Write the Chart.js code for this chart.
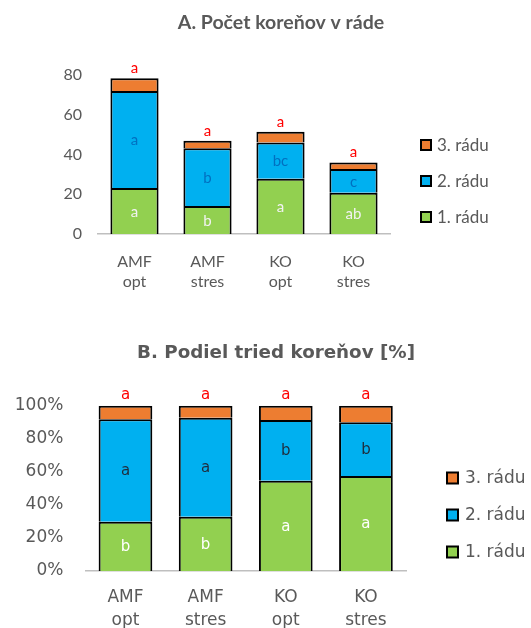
<!DOCTYPE html>
<html>
<head>
<meta charset="utf-8">
<script src="https://cdn.jsdelivr.net/npm/chart.js@4/dist/chart.umd.min.js"></script>
<style>
  html, body { margin: 0; padding: 0; background: #fff; overflow: hidden; width: 531px; height: 628px; }
  #wrapA { position: absolute; left: 0; top: 0; width: 531px; height: 320px; }
  #wrapB { position: absolute; left: 0; top: 320px; width: 531px; height: 340px; }
</style>
</head>
<body>
<div id="wrapA"><canvas id="chartA" width="531" height="320"></canvas></div>
<div id="wrapB"><canvas id="chartB" width="531" height="340"></canvas></div>
<script>
// ---------- data ----------
const categories = [['AMF', 'opt'], ['AMF', 'stres'], ['KO', 'opt'], ['KO', 'stres']];
const seriesNames = ['1. rádu', '2. rádu', '3. rádu'];

// A. Počet koreňov v ráde (counts)
const titleA = 'A. Počet koreňov v ráde';
const countOrder1 = [23.1, 14.1, 27.8, 20.8];
const countOrder2 = [48.8, 29.0, 18.3, 11.9];
const countOrder3 = [6.5, 3.8, 5.3, 3.3];
const lettersA1 = ['a', 'b', 'a', 'ab'];
const lettersA2 = ['a', 'b', 'bc', 'c'];
const lettersA3 = ['a', 'a', 'a', 'a'];
const yTicksA = [0, 20, 40, 60, 80];

// B. Podiel tried koreňov [%]
const titleB = 'B. Podiel tried koreňov [%]';
const shareOrder1 = [29.8, 32.8, 54.6, 57.5];
const shareOrder2 = [62.0, 59.9, 36.7, 32.5];
const shareOrder3 = [8.2, 7.3, 8.7, 10.0];
const lettersB1 = ['b', 'b', 'a', 'a'];
const lettersB2 = ['a', 'a', 'b', 'b'];
const lettersB3 = ['a', 'a', 'a', 'a'];
const yTicksB = [0, 20, 40, 60, 80, 100];
const yTickLabelsB = ['0%', '20%', '40%', '60%', '80%', '100%'];

// ---------- styles ----------
const colGreen = '#92D050', colBlue = '#00B0F0', colOrange = '#ED7D31';
const textGray = '#595959';

// letters inside segments and above stacks
const letterPlugin = {
  id: 'letters',
  afterDatasetsDraw(chart, args, opts) {
    const ctx = chart.ctx;
    ctx.save();
    ctx.font = opts.font;
    ctx.textAlign = 'center';
    ctx.textBaseline = 'middle';
    const n = chart.data.datasets.length;
    chart.data.datasets.forEach((ds, di) => {
      const meta = chart.getDatasetMeta(di);
      meta.data.forEach((bar, i) => {
        const p = bar.getProps(['x', 'y', 'base'], true);
        if (di < n - 1) {
          ctx.fillStyle = opts.colors[di];
          ctx.fillText(opts.inner[di][i], p.x, (p.y + p.base) / 2 + 1);
        } else {
          ctx.fillStyle = '#FF0000';
          ctx.fillText(opts.top[i], p.x, p.y - opts.topGap);
        }
      });
    });
    ctx.restore();
  }
};

// chart heading
const headPlugin = {
  id: 'head',
  afterDraw(chart, args, opts) {
    const ctx = chart.ctx;
    ctx.save();
    ctx.font = opts.font;
    ctx.fillStyle = opts.color;
    ctx.textAlign = 'center';
    ctx.textBaseline = 'middle';
    ctx.fillText(opts.text, opts.x, opts.y);
    ctx.restore();
  }
};

// legend built from the datasets (reversed order), placed to the right
const sideLegendPlugin = {
  id: 'sideLegend',
  afterDraw(chart, args, opts) {
    const ctx = chart.ctx;
    ctx.save();
    ctx.font = opts.font;
    ctx.textAlign = 'left';
    ctx.textBaseline = 'middle';
    const ds = chart.data.datasets.slice().reverse();
    ds.forEach((d, k) => {
      const cy = opts.y + k * opts.step;
      const b = opts.box;
      ctx.fillStyle = d.backgroundColor;
      ctx.fillRect(opts.x, cy - b / 2, b, b);
      ctx.lineWidth = 2;
      ctx.strokeStyle = d.borderColor;
      ctx.strokeRect(opts.x, cy - b / 2, b, b);
      ctx.fillStyle = opts.color;
      ctx.fillText(d.label, opts.x + b + opts.gap, cy + 1);
    });
    ctx.restore();
  }
};

function makeDatasets(d1, d2, d3, bp) {
  const common = { borderColor: '#000000', borderWidth: 2, borderSkipped: 'bottom', categoryPercentage: 1, barPercentage: bp };
  return [
    Object.assign({ label: seriesNames[0], data: d1, backgroundColor: colGreen }, common),
    Object.assign({ label: seriesNames[1], data: d2, backgroundColor: colBlue }, common),
    Object.assign({ label: seriesNames[2], data: d3, backgroundColor: colOrange }, common)
  ];
}

// ---------- Chart A ----------
const fontA = 'Lato';
new Chart(document.getElementById('chartA'), {
  type: 'bar',
  data: { labels: categories, datasets: makeDatasets(countOrder1, countOrder2, countOrder3, 0.66) },
  plugins: [letterPlugin, headPlugin, sideLegendPlugin],
  options: {
    responsive: false, animation: false, devicePixelRatio: 1,
    layout: { padding: { left: 0, top: 75, right: 141, bottom: 0 } },
    plugins: {
      title: { display: false },
      legend: { display: false },
      tooltip: { enabled: false },
      head: { text: titleA, x: 281, y: 23, font: 'bold 19.5px Lato', color: textGray },
      sideLegend: { x: 421, y: 145, step: 36, box: 10, gap: 6, font: '17px Lato', color: textGray },
      letters: { font: '15px Lato', colors: ['#F2F2F2', '#0070C0'],
                 inner: [lettersA1, lettersA2], top: lettersA3, topGap: 10 }
    },
    scales: {
      x: { stacked: true, grid: { display: false, drawTicks: false },
           border: { display: true, color: '#BFBFBF', width: 1.5 },
           ticks: { color: textGray, padding: 17, maxRotation: 0, autoSkip: false,
                    font: { family: fontA, size: 16, lineHeight: 1.3 } },
           afterFit(s) { s.height = 86; } },
      y: { stacked: true, min: 0, max: 80,
           grid: { display: false, drawTicks: false }, border: { display: false },
           afterBuildTicks(s) { s.ticks = yTicksA.map(v => ({ value: v })); },
           ticks: { color: textGray, padding: 16, font: { family: fontA, size: 16 } },
           afterFit(s) { s.width = 98; } }
    }
  }
});

// ---------- Chart B ----------
const fontB = 'DejaVu Sans';
new Chart(document.getElementById('chartB'), {
  type: 'bar',
  data: { labels: categories, datasets: makeDatasets(shareOrder1, shareOrder2, shareOrder3, 0.67) },
  plugins: [letterPlugin, headPlugin, sideLegendPlugin],
  options: {
    responsive: false, animation: false, devicePixelRatio: 1,
    layout: { padding: { left: 0, top: 85.7, right: 125, bottom: 0 } },
    plugins: {
      title: { display: false },
      legend: { display: false },
      tooltip: { enabled: false },
      head: { text: titleB, x: 276, y: 33, font: 'bold 18.3px "DejaVu Sans"', color: textGray },
      sideLegend: { x: 447, y: 158, step: 37, box: 11, gap: 7, font: '17px "DejaVu Sans"', color: textGray },
      letters: { font: '15px "DejaVu Sans"', colors: ['#FFFFFF', '#1F2D3D'],
                 inner: [lettersB1, lettersB2], top: lettersB3, topGap: 11 }
    },
    scales: {
      x: { stacked: true, grid: { display: false, drawTicks: false },
           border: { display: true, color: '#BFBFBF', width: 1.5 },
           ticks: { color: textGray, padding: 16, maxRotation: 0, autoSkip: false,
                    font: { family: fontB, size: 17, lineHeight: 1.3 } },
           afterFit(s) { s.height = 89; } },
      y: { stacked: true, min: 0, max: 100,
           grid: { display: false, drawTicks: false }, border: { display: false },
           afterBuildTicks(s) { s.ticks = yTicksB.map(v => ({ value: v })); },
           ticks: { color: textGray, padding: 22, font: { family: fontB, size: 17 },
                    callback(v, i) { return yTickLabelsB[i]; } },
           afterFit(s) { s.width = 85.4; } }
    }
  }
});
</script>
</body>
</html>
